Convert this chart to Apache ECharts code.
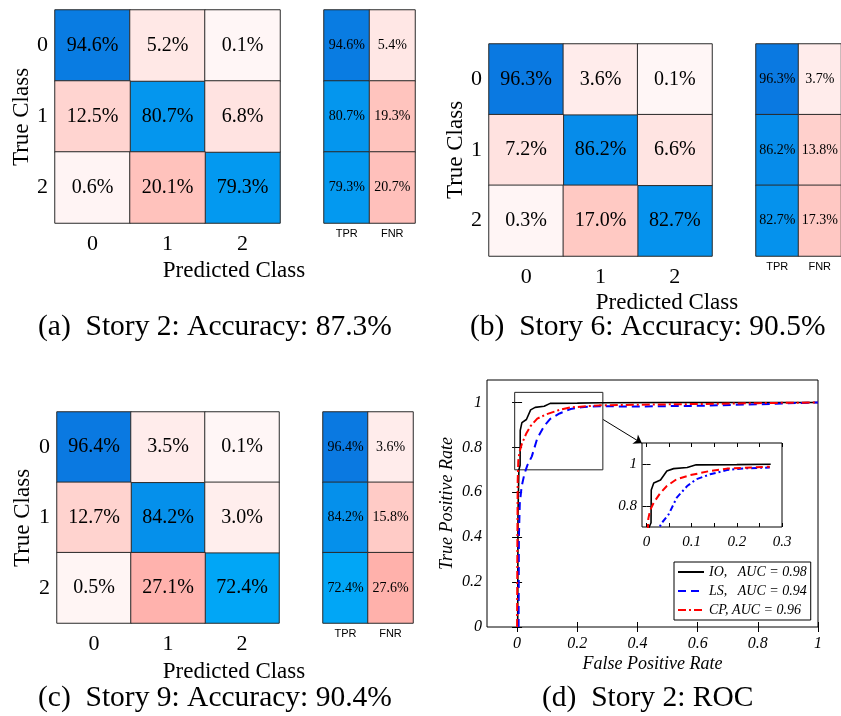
<!DOCTYPE html>
<html><head><meta charset="utf-8">
<script src="https://cdn.jsdelivr.net/npm/echarts@6/dist/echarts.min.js"></script>
<style>html,body{margin:0;padding:0;background:#fff}#c{width:841px;height:716px}</style>
</head><body><div id="c"></div>
<script>
// ---------- data ----------
const classes = ['0', '1', '2'];
const rateLabels = ['TPR', 'FNR'];
const cmA = [[94.6, 5.2, 0.1], [12.5, 80.7, 6.8], [0.6, 20.1, 79.3]];
const rateA = [[94.6, 5.4], [80.7, 19.3], [79.3, 20.7]];
const cmB = [[96.3, 3.6, 0.1], [7.2, 86.2, 6.6], [0.3, 17.0, 82.7]];
const rateB = [[96.3, 3.7], [86.2, 13.8], [82.7, 17.3]];
const cmC = [[96.4, 3.5, 0.1], [12.7, 84.2, 3.0], [0.5, 27.1, 72.4]];
const rateC = [[96.4, 3.6], [84.2, 15.8], [72.4, 27.6]];
const captions = ['(a)  Story 2: Accuracy: 87.3%', '(b)  Story 6: Accuracy: 90.5%',
                  '(c)  Story 9: Accuracy: 90.4%', '(d)  Story 2: ROC'];
const rocNames = ['IO,   AUC = 0.98', 'LS,   AUC = 0.94', 'CP, AUC = 0.96'];
const rocIO = [[0.002,0],[0.003,0.5],[0.006,0.7],[0.01,0.72],[0.0105,0.876],[0.016,0.91],[0.031,0.924],
  [0.045,0.967],[0.06,0.978],[0.09,0.983],[0.11,0.996],[0.2,0.997],[0.275,0.999],[0.5,1],[1,1]];
const rocLS = [[0.005,0],[0.006,0.4],[0.009,0.55],[0.015,0.625],[0.024,0.68],[0.034,0.72],[0.049,0.76],
  [0.067,0.84],[0.09,0.895],[0.11,0.927],[0.141,0.951],[0.178,0.971],[0.214,0.979],[0.273,0.983],
  [0.4,0.982],[0.6,0.985],[0.8,0.992],[1,1]];
const rocCP = [[0,0],[0.001,0.4],[0.002,0.65],[0.004,0.74],[0.008,0.78],[0.016,0.816],[0.031,0.863],
  [0.045,0.895],[0.067,0.928],[0.097,0.947],[0.141,0.967],[0.178,0.978],[0.273,0.987],[0.4,0.99],
  [0.6,0.993],[0.8,0.997],[1,1]];
const insetMaxFpr = 0.28;
const rocTicks = [0, 0.2, 0.4, 0.6, 0.8, 1];
const insetXLabels = [0, 0.1, 0.2, 0.3];
const insetXTicks = [0, 0.05, 0.1, 0.15, 0.2, 0.25, 0.3];
const insetYLabels = [0.8, 1];
const zoomBox = [[-0.008, 0.7], [0.285, 1.045]];
const arrowLine = [[0.286, 0.924], [0.415, 0.818]];

// ---------- layout ----------
const SERIF = '"Liberation Serif", "Times New Roman", serif';
const SANS = '"Liberation Sans", Arial, sans-serif';
const grids = [
  {left: 55, top: 10, width: 225, height: 213},
  {left: 324, top: 10, width: 91, height: 213},
  {left: 489, top: 44, width: 223, height: 212},
  {left: 756, top: 44, width: 90, height: 212},
  {left: 57, top: 412, width: 222, height: 211},
  {left: 323, top: 412, width: 90, height: 211},
  {left: 487, top: 380, width: 331, height: 247, show: true, borderColor: '#000', borderWidth: 1},
  {left: 642, top: 443, width: 140, height: 84, show: true, backgroundColor: '#fff', borderColor: '#000', borderWidth: 1, z: 5}
];

const xAxes = [], yAxes = [], series = [];
const mats = [[cmA, rateA], [cmB, rateB], [cmC, rateC]];
mats.forEach((pair, p) => {
  const [cm, rate] = pair;
  const gm = p * 2, gr = p * 2 + 1;
  xAxes.push({type: 'category', gridIndex: gm, data: classes, axisLine: {show: false}, axisTick: {show: false},
    axisLabel: {fontFamily: SERIF, fontSize: 22, color: '#000', margin: 10}});
  yAxes.push({type: 'category', gridIndex: gm, data: classes, inverse: true, axisLine: {show: false}, axisTick: {show: false},
    axisLabel: {fontFamily: SERIF, fontSize: 22, color: '#000', margin: 7}});
  xAxes.push({type: 'category', gridIndex: gr, data: rateLabels, axisLine: {show: false}, axisTick: {show: false},
    axisLabel: {fontFamily: SANS, fontSize: 11, color: '#000', margin: 5}});
  yAxes.push({type: 'category', gridIndex: gr, data: classes, inverse: true, axisLine: {show: false}, axisTick: {show: false},
    axisLabel: {show: false}});
  const diag = [], off = [], tpr = [], fnr = [];
  cm.forEach((row, r) => row.forEach((v, c) => (r === c ? diag : off).push([c, r, v])));
  rate.forEach((row, r) => { tpr.push([0, r, row[0]]); fnr.push([1, r, row[1]]); });
  const cell = (idx, data, fs) => ({
    type: 'heatmap', xAxisIndex: idx, yAxisIndex: idx, data: data,
    itemStyle: {borderColor: '#2a2a2a', borderWidth: 1},
    label: {show: true, formatter: (q) => q.value[2].toFixed(1) + '%', fontFamily: SERIF, fontSize: fs, color: '#000'},
    emphasis: {disabled: true}
  });
  series.push(cell(gm, diag, 20));
  series.push(cell(gm, off, 20));
  series.push(cell(gr, tpr, 14));
  series.push(cell(gr, fnr, 14));
});

// ROC axes: 6 bottom, 7 top, 8 inset bottom, 9 inset top
const tickLab = {fontFamily: SERIF, fontStyle: 'italic', fontSize: 16, color: '#000'};
const roX = {type: 'value', gridIndex: 6, min: -0.1, max: 1, splitLine: {show: false}, axisLine: {show: false}};
xAxes.push(Object.assign({}, roX, {position: 'bottom', name: 'False Positive Rate', nameLocation: 'middle', nameGap: 28,
  nameTextStyle: {fontFamily: SERIF, fontStyle: 'italic', fontSize: 18, color: '#000'},
  axisTick: {inside: true, length: 5, customValues: rocTicks, lineStyle: {color: '#000'}},
  axisLabel: Object.assign({customValues: rocTicks, margin: 9}, tickLab)}));
xAxes.push(Object.assign({}, roX, {position: 'top',
  axisTick: {inside: true, length: 5, customValues: rocTicks, lineStyle: {color: '#000'}}, axisLabel: {show: false}}));
const inX = {type: 'value', gridIndex: 7, min: -0.01, max: 0.3, splitLine: {show: false}, axisLine: {show: false}, z: 7};
xAxes.push(Object.assign({}, inX, {position: 'bottom',
  axisTick: {inside: true, length: 4, customValues: insetXTicks, lineStyle: {color: '#000'}},
  axisLabel: Object.assign({customValues: insetXLabels, margin: 8}, tickLab, {fontSize: 15})}));
xAxes.push(Object.assign({}, inX, {position: 'top',
  axisTick: {inside: true, length: 4, customValues: insetXTicks, lineStyle: {color: '#000'}}, axisLabel: {show: false}}));

const roY = {type: 'value', gridIndex: 6, min: 0, max: 1.1, splitLine: {show: false}, axisLine: {show: false}};
yAxes.push(Object.assign({}, roY, {position: 'left', name: 'True Positive Rate', nameLocation: 'middle', nameGap: 31,
  nameTextStyle: {fontFamily: SERIF, fontStyle: 'italic', fontSize: 18, color: '#000'},
  axisTick: {inside: true, length: 5, customValues: rocTicks, lineStyle: {color: '#000'}},
  axisLabel: Object.assign({customValues: rocTicks, margin: 5}, tickLab)}));
yAxes.push(Object.assign({}, roY, {position: 'right',
  axisTick: {inside: true, length: 5, customValues: rocTicks, lineStyle: {color: '#000'}}, axisLabel: {show: false}}));
const inY = {type: 'value', gridIndex: 7, min: 0.7, max: 1.1, splitLine: {show: false}, axisLine: {show: false}, z: 7};
yAxes.push(Object.assign({}, inY, {position: 'left',
  axisTick: {inside: true, length: 4, customValues: insetYLabels, lineStyle: {color: '#000'}},
  axisLabel: Object.assign({customValues: insetYLabels, margin: 5}, tickLab, {fontSize: 15})}));
yAxes.push(Object.assign({}, inY, {position: 'right',
  axisTick: {inside: true, length: 4, customValues: insetYLabels, lineStyle: {color: '#000'}}, axisLabel: {show: false}}));

const curveStyles = [
  {color: '#000', width: 1.6, type: 'solid'},
  {color: '#0000ff', width: 2, type: [8, 5]},
  {color: '#ff0000', width: 2, type: [8, 3, 2, 3]}
];
const insetStyles = [
  {color: '#000', width: 1.6, type: 'solid'},
  {color: '#0000ff', width: 2, type: [6, 3, 2, 3]},
  {color: '#ff0000', width: 2, type: [7, 4]}
];
const curves = [rocIO, rocLS, rocCP];
curves.forEach((d, i) => {
  const s = {type: 'line', name: rocNames[i], xAxisIndex: 6, yAxisIndex: 6, data: d, symbol: 'none', showSymbol: false,
    lineStyle: curveStyles[i], itemStyle: {color: curveStyles[i].color}, z: 2, animation: false, emphasis: {disabled: true}};
  if (i === 0) {
    s.markArea = {silent: true, itemStyle: {color: 'rgba(0,0,0,0)', borderColor: '#222', borderWidth: 1},
      data: [[{coord: zoomBox[0]}, {coord: zoomBox[1]}]]};
    s.markLine = {silent: true, symbol: ['none', 'arrow'], symbolSize: 8, animation: false,
      lineStyle: {color: '#000', width: 1, type: 'solid'}, label: {show: false},
      data: [[{coord: arrowLine[0]}, {coord: arrowLine[1]}]]};
  }
  series.push(s);
});
curves.forEach((d, i) => {
  series.push({type: 'line', name: 'inset' + i, xAxisIndex: 8, yAxisIndex: 8,
    data: d.filter(p => p[0] <= insetMaxFpr), symbol: 'none',
    lineStyle: insetStyles[i], itemStyle: {color: insetStyles[i].color}, z: 6, clip: true, animation: false,
    emphasis: {disabled: true}});
});

const blueIdx = [], redIdx = [];
for (let i = 0; i < 12; i++) (i % 2 === 0 ? blueIdx : redIdx).push(i);

const T = (text, x, y, size, extra) => Object.assign({type: 'text', x: x, y: y, z: 10,
  style: {text: text, fontFamily: SERIF, fontSize: size, fill: '#000', align: 'center', verticalAlign: 'middle'}}, extra || {});
const C = (text, x, y) => ({type: 'text', x: x, y: y, z: 10,
  style: {text: text, fontFamily: SERIF, fontSize: 29.5, fill: '#000', align: 'left', verticalAlign: 'middle'}});
const graphics = [
  T('Predicted Class', 234, 271, 23), T('True Class', 22, 117, 23, {rotation: Math.PI / 2}),
  T('Predicted Class', 667, 303, 23), T('True Class', 456, 150, 23, {rotation: Math.PI / 2}),
  T('Predicted Class', 234, 672, 23), T('True Class', 23, 518, 23, {rotation: Math.PI / 2}),
  C(captions[0], 38, 327), C(captions[1], 470, 327), C(captions[2], 38, 698), C(captions[3], 542, 698)
];

const chart = echarts.init(document.getElementById('c'), null, {renderer: 'canvas'});
chart.setOption({
  animation: false,
  backgroundColor: '#fff',
  grid: grids,
  xAxis: xAxes,
  yAxis: yAxes,
  visualMap: [
    {show: false, seriesIndex: blueIdx, dimension: 2, min: 70, max: 97, inRange: {color: ['#00aaf8', '#0a78e0']}},
    {show: false, seriesIndex: redIdx, dimension: 2, min: 0, max: 30, inRange: {color: ['#fff6f6', '#ffcdc8', '#ffaca6']}}
  ],
  legend: {data: rocNames, orient: 'vertical', left: 674, top: 562, itemWidth: 26, itemHeight: 12, itemGap: 5,
    padding: [3, 4, 3, 3], borderColor: '#000', borderWidth: 1, backgroundColor: '#fff', selectedMode: false,
    itemStyle: {opacity: 0, borderWidth: 0},
    textStyle: {fontFamily: SERIF, fontStyle: 'italic', fontSize: 14, color: '#000'}},
  series: series,
  graphic: graphics
});
</script></body></html>
